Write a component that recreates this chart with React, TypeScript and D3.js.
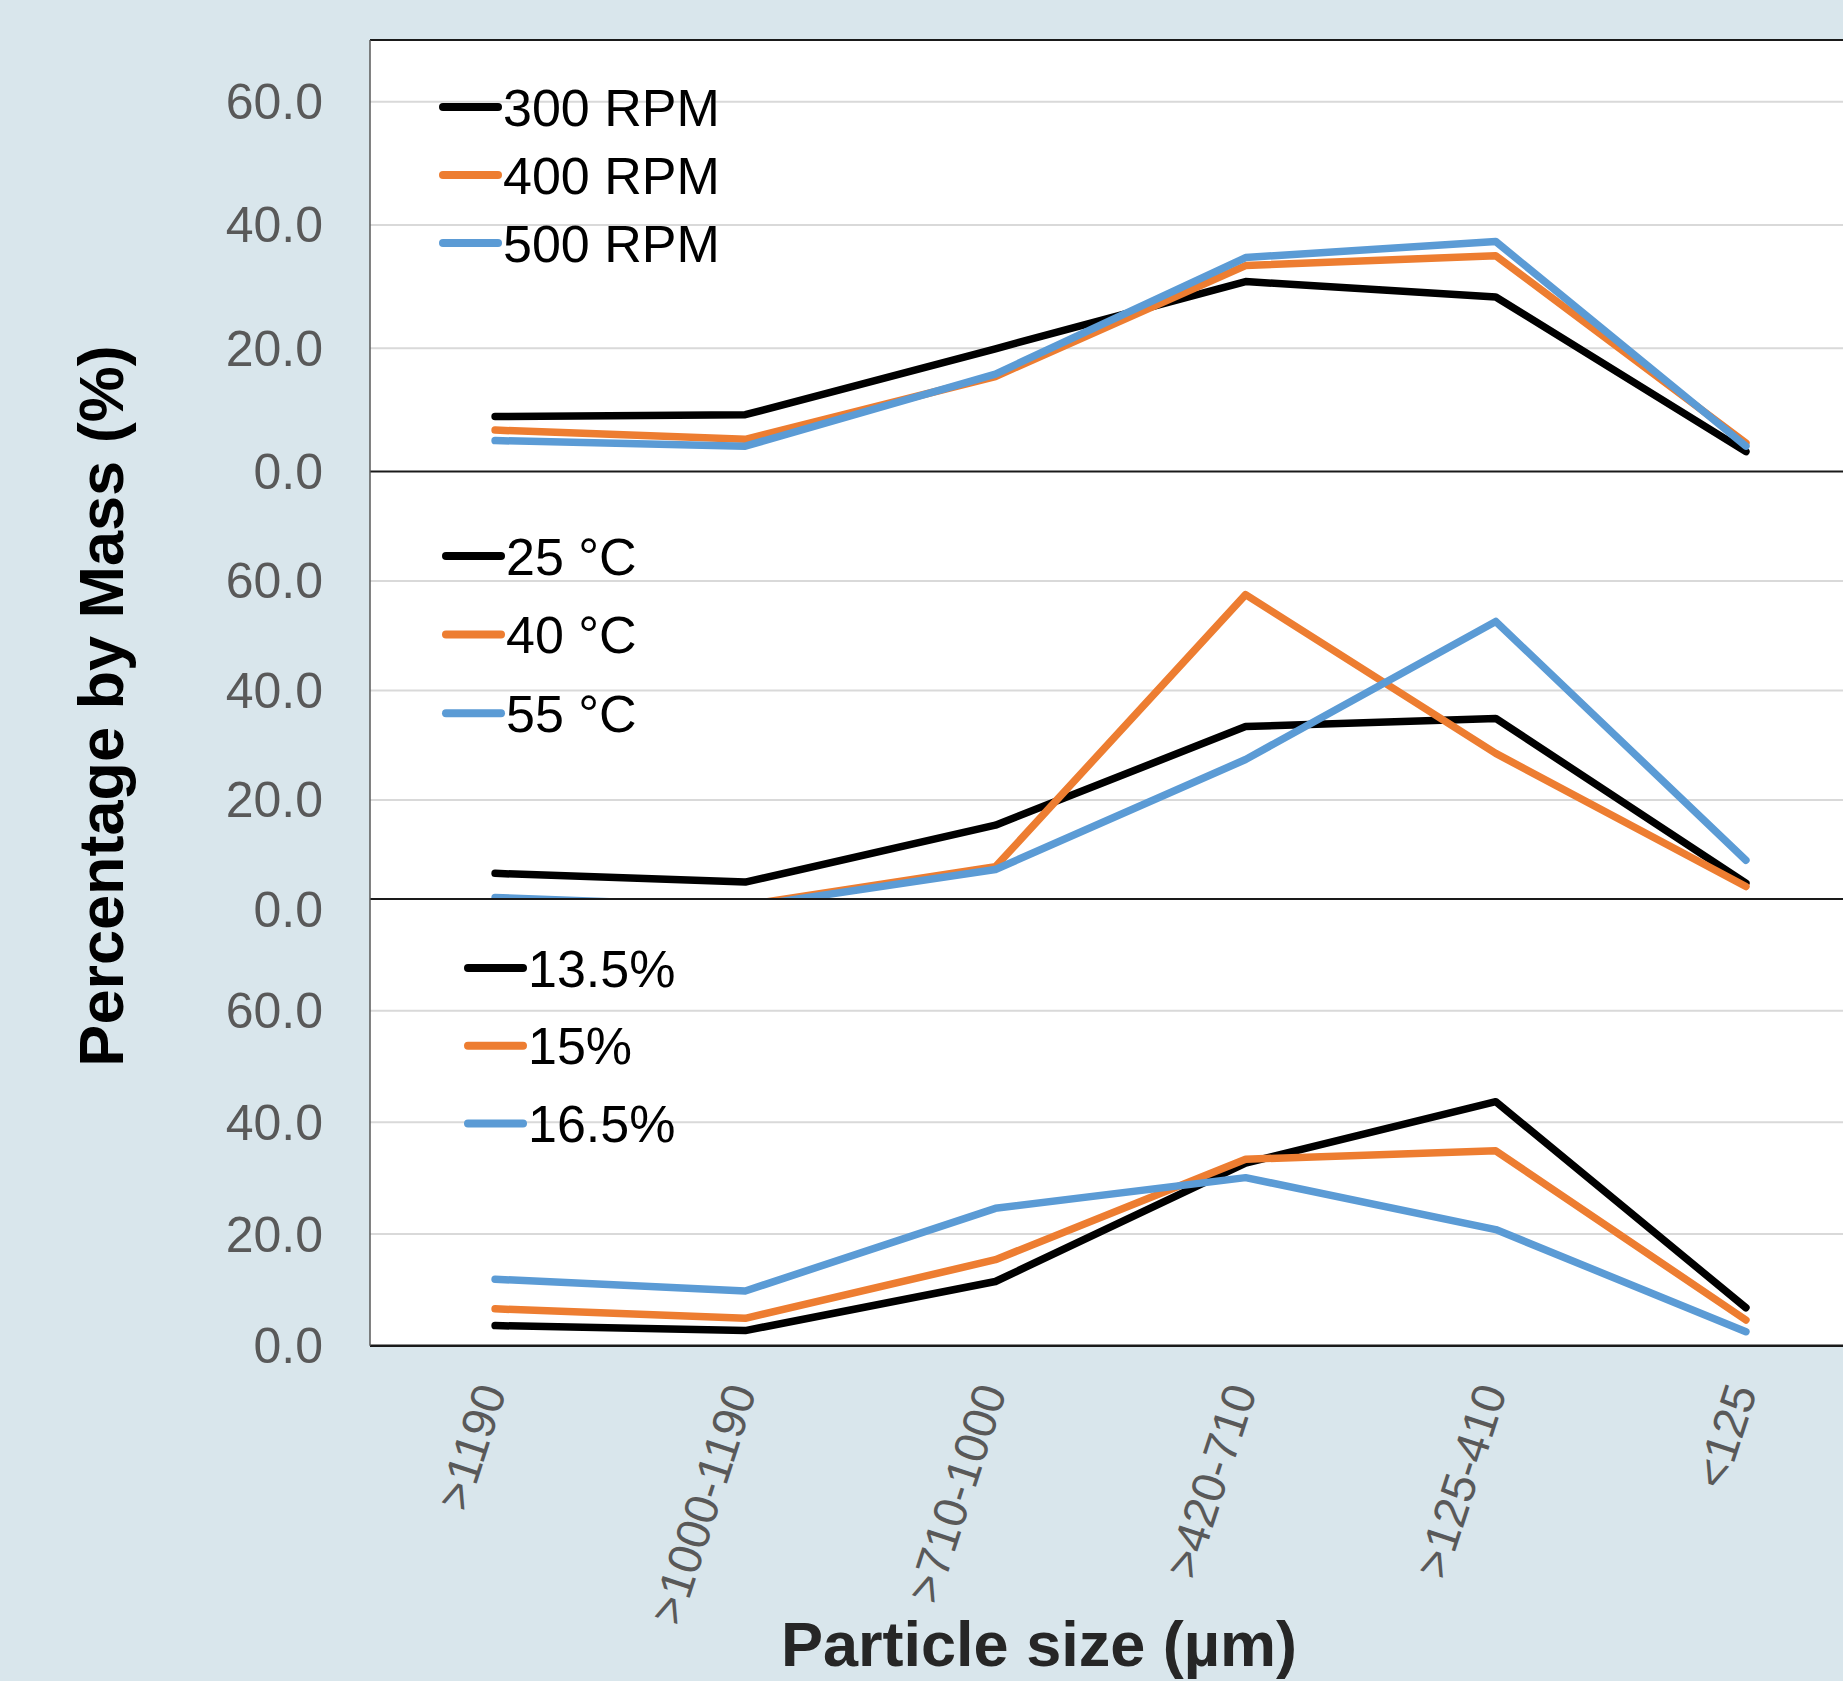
import * as d3 from "d3";
import { useEffect, useRef } from "react";

const categories = [">1190", ">1000-1190", ">710-1000", ">420-710", ">125-410", "<125"];

// top panel: stirring speed
const speedLabels = ["300 RPM", "400 RPM", "500 RPM"];
const speed300 = [8.9, 9.2, 19.9, 30.8, 28.3, 3.2];
const speed400 = [6.7, 5.2, 15.4, 33.4, 35.0, 4.6];
const speed500 = [5.0, 4.1, 15.8, 34.7, 37.3, 4.1];

// middle panel: temperature
const tempLabels = ["25 °C", "40 °C", "55 °C"];
const temp25 = [6.6, 5.0, 15.4, 33.4, 34.9, 4.8];
const temp40 = [0.3, 0.8, 7.8, 57.5, 28.5, 4.2];
const temp55 = [2.2, 0.5, 7.3, 27.4, 52.6, 9.0];

// bottom panel: moisture
const moistLabels = ["13.5%", "15%", "16.5%"];
const moist135 = [3.6, 2.7, 11.5, 32.7, 43.7, 6.8];
const moist15 = [6.6, 4.9, 15.4, 33.4, 34.9, 4.6];
const moist165 = [11.9, 9.8, 24.6, 30.1, 20.8, 2.5];

const yTicks = [0, 20, 40, 60];
const seriesColors = ["#000000", "#ED7D31", "#5B9BD5"];

export default function App() {
  const ref = useRef<SVGSVGElement>(null);

  useEffect(() => {
    if (!ref.current) return;

    const width = 1843;
    const height = 1681;
    const plotLeft = 370;
    const plotRight = 1871;
    const font = "'Liberation Sans', Arial, sans-serif";

    const svg = d3.select(ref.current);
    svg.selectAll("*").remove();

    svg.append("rect").attr("width", width).attr("height", height).attr("fill", "#D9E6EC");

    const x = d3
      .scalePoint<string>()
      .domain(categories)
      .range([plotLeft, plotRight])
      .padding(0.5);

    // each panel is its own little chart; the lower one is drawn over the bottom of the one above
    const panels = [
      { labels: speedLabels, series: [speed300, speed400, speed500], max: 70, top: 40, bottom: 471.4, leg: { x: 443, y: 107, gap: 68 } },
      { labels: tempLabels, series: [temp25, temp40, temp55], max: 80, top: 471.4, bottom: 909.5, leg: { x: 446, y: 556, gap: 78.6 } },
      { labels: moistLabels, series: [moist135, moist15, moist165], max: 80, top: 899, bottom: 1345.7, leg: { x: 468, y: 968, gap: 77.8 } },
    ];

    const line = d3.line<number>();

    panels.forEach((p) => {
      const y = d3.scaleLinear().domain([0, p.max]).range([p.bottom, p.top]);
      const g = svg.append("g");

      // plot area
      g.append("rect")
        .attr("x", plotLeft)
        .attr("y", p.top)
        .attr("width", plotRight - plotLeft)
        .attr("height", p.bottom - p.top)
        .attr("fill", "#ffffff");

      // gridlines
      g.selectAll(".grid")
        .data(yTicks.filter((t) => t > 0))
        .join("line")
        .attr("x1", plotLeft)
        .attr("x2", plotRight)
        .attr("y1", (d) => y(d))
        .attr("y2", (d) => y(d))
        .attr("stroke", "#D9D9D9")
        .attr("stroke-width", 2);

      // series lines
      p.series.forEach((vals, i) => {
        line.x((_, j) => x(categories[j])!).y((d) => y(d));
        g.append("path")
          .attr("d", line(vals))
          .attr("fill", "none")
          .attr("stroke", seriesColors[i])
          .attr("stroke-width", 7.5)
          .attr("stroke-linejoin", "round")
          .attr("stroke-linecap", "round");
      });

      // legend
      const rows = g
        .selectAll(".leg")
        .data(p.labels)
        .join("g")
        .attr("transform", (_, i) => `translate(${p.leg.x},${p.leg.y + i * p.leg.gap})`);
      rows.append("line")
        .attr("x1", 0)
        .attr("x2", 55)
        .attr("stroke", (_, i) => seriesColors[i])
        .attr("stroke-width", 8)
        .attr("stroke-linecap", "round");
      rows.append("text")
        .attr("x", 60)
        .attr("y", 18.5)
        .style("font-family", font)
        .style("font-size", "52px")
        .attr("fill", "#000")
        .text((d) => d);

      // top border
      g.append("line")
        .attr("x1", plotLeft)
        .attr("x2", width)
        .attr("y1", p.top)
        .attr("y2", p.top)
        .attr("stroke", "#1a1a1a")
        .attr("stroke-width", 2);

      // tick labels
      svg.append("g")
        .selectAll("text")
        .data(yTicks)
        .join("text")
        .attr("x", 323)
        .attr("y", (d) => y(d))
        .attr("dy", "0.35em")
        .attr("text-anchor", "end")
        .style("font-family", font)
        .style("font-size", "50px")
        .attr("fill", "#595959")
        .text((d) => d.toFixed(1));
    });

    // bottom axis line
    const last = panels[panels.length - 1];
    svg.append("line")
      .attr("x1", plotLeft)
      .attr("x2", width)
      .attr("y1", last.bottom)
      .attr("y2", last.bottom)
      .attr("stroke", "#1a1a1a")
      .attr("stroke-width", 2.5);

    // left edge
    svg.append("line")
      .attr("x1", plotLeft)
      .attr("x2", plotLeft)
      .attr("y1", panels[0].top)
      .attr("y2", last.bottom)
      .attr("stroke", "#595959")
      .attr("stroke-width", 1.5);

    // category labels
    svg.append("g")
      .selectAll("text")
      .data(categories)
      .join("text")
      .attr("transform", (d) => `translate(${x(d)! - 4},${last.bottom + 40}) rotate(-72)`)
      .attr("text-anchor", "end")
      .attr("dy", "0.35em")
      .style("font-family", font)
      .style("font-size", "47px")
      .attr("fill", "#595959")
      .text((d) => d);

    // axis titles
    svg.append("text")
      .attr("transform", `translate(123,706) rotate(-90)`)
      .attr("text-anchor", "middle")
      .style("font-family", font)
      .style("font-size", "63px")
      .style("font-weight", "700")
      .attr("fill", "#000")
      .text("Percentage by Mass (%)");

    svg.append("text")
      .attr("x", 1039)
      .attr("y", 1666)
      .attr("text-anchor", "middle")
      .style("font-family", font)
      .style("font-size", "63px")
      .style("font-weight", "700")
      .attr("fill", "#262626")
      .text("Particle size (µm)");
  }, []);

  return (
    <svg
      ref={ref}
      width={1843}
      height={1681}
      style={{ position: "absolute", left: 0, top: 0, display: "block" }}
    />
  );
}
